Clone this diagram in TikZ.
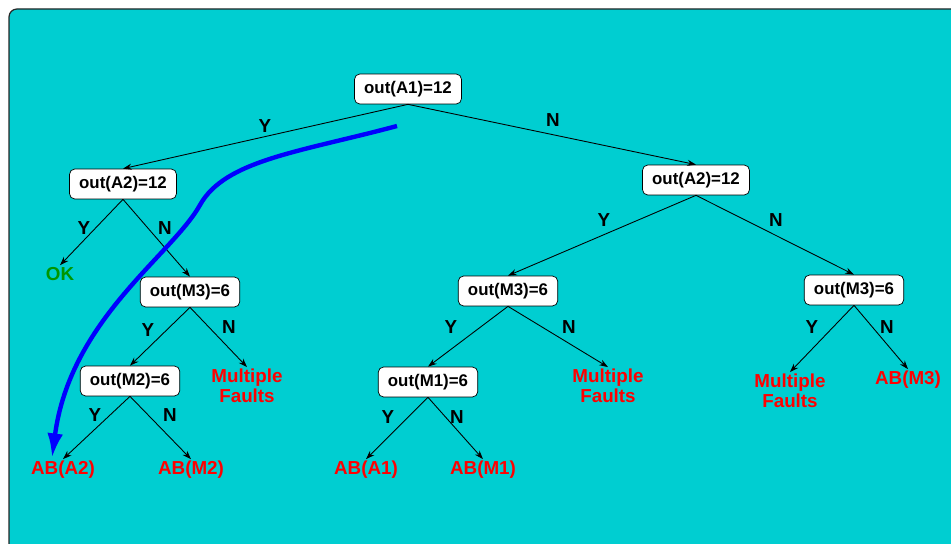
\documentclass[tikz,border=0pt]{standalone}
\usepackage{fontspec}
\setmainfont{Liberation Sans}
\usetikzlibrary{arrows}
\usetikzlibrary{arrows.meta}
\definecolor{bgcyan}{RGB}{0,206,209}
\definecolor{okgreen}{RGB}{0,150,0}

\begin{document}
\begin{tikzpicture}[x=0.02cm,y=-0.02cm,
  test/.style={draw,fill=white,rounded corners=3pt,inner xsep=5.5pt,
    minimum height=0.6cm,font=\fontsize{9.6}{11}\selectfont\bfseries},
  fault/.style={text=red,align=center,inner sep=1pt,
    font=\fontsize{10.7}{11.3}\selectfont\bfseries},
  lbl/.style={font=\fontsize{10.7}{12}\selectfont\bfseries},
  edge/.style={-{Stealth[length=5pt,width=3.5pt]},line width=0.5pt}]
\useasboundingbox (0,0) rectangle (951,544);
\draw[fill=bgcyan,draw=black!85,line width=0.7pt,rounded corners=4.5pt] (9,9) rectangle (980,580);

% tests
\node[test] (a1) at (408,89) {out(A1)=12};
\node[test] (a2l) at (123,184) {out(A2)=12};
\node[test] (a2r) at (696,180) {out(A2)=12};
\node[test] (m3l) at (190,292) {out(M3)=6};
\node[test] (m3m) at (508,291) {out(M3)=6};
\node[test] (m3r) at (854,290) {out(M3)=6};
\node[test] (m2) at (130,381) {out(M2)=6};
\node[test] (m1) at (428,382) {out(M1)=6};

% outcomes
\node[fault,text=okgreen] (ok) at (60,274) {OK};
\node[fault] (aba2) at (63,470) {AB(A2)};
\node[fault] (abm2) at (191,470) {AB(M2)};
\node[fault] (mfl) at (247,386) {Multiple\\Faults};
\node[fault] (aba1) at (366,470) {AB(A1)};
\node[fault] (abm1) at (483,470) {AB(M1)};
\node[fault] (mfm) at (608,386) {Multiple\\Faults};
\node[fault] (mfr) at (790,391) {Multiple\\Faults};
\node[fault] (abm3) at (908,380) {AB(M3)};

% branches
\draw[edge] (a1.south) -- (a2l.north);
\draw[edge] (a1.south) -- (a2r.north);
\draw[edge] (a2l.south) -- (ok.north);
\draw[edge] (a2l.south) -- (m3l.north);
\draw[edge] (a2r.south) -- (m3m.north);
\draw[edge] (a2r.south) -- (m3r.north);
\draw[edge] (m3l.south) -- (m2.north);
\draw[edge] (m3l.south) -- (mfl.north);
\draw[edge] (m3m.south) -- (m1.north);
\draw[edge] (m3m.south) -- (mfm.north);
\draw[edge] (m3r.south) -- (mfr.north);
\draw[edge] (m3r.south) -- (abm3.north);
\draw[edge] (m2.south) -- (aba2.north);
\draw[edge] (m2.south) -- (abm2.north);
\draw[edge] (m1.south) -- (aba1.north);
\draw[edge] (m1.south) -- (abm1.north);

% Y/N labels
\node[lbl] (y1) at (265,126) {Y};
\node[lbl] (n1) at (553,120) {N};
\node[lbl] (y2) at (84,228) {Y};
\node[lbl] (n2) at (165,228) {N};
\node[lbl] (y3) at (604,220) {Y};
\node[lbl] (n3) at (776,220) {N};
\node[lbl] (y4) at (148,330) {Y};
\node[lbl] (n4) at (229,327) {N};
\node[lbl] (y5) at (451,327) {Y};
\node[lbl] (n5) at (569,327) {N};
\node[lbl] (y6) at (812,327) {Y};
\node[lbl] (n6) at (887,327) {N};
\node[lbl] (y7) at (95,415) {Y};
\node[lbl] (n7) at (170,415) {N};
\node[lbl] (y8) at (388,417) {Y};
\node[lbl] (n8) at (457,417) {N};

% diagnosis path
\coordinate (p0) at (397,126);
\coordinate (p1) at (52,458);
\draw[blue,line width=2.5pt,-{Latex[length=14pt,width=9pt]}]
  (p0) .. controls (300,152) and (225,160) .. (200,205)
       .. controls (172,255) and (70,320) .. (p1);
\end{tikzpicture}
\end{document}
